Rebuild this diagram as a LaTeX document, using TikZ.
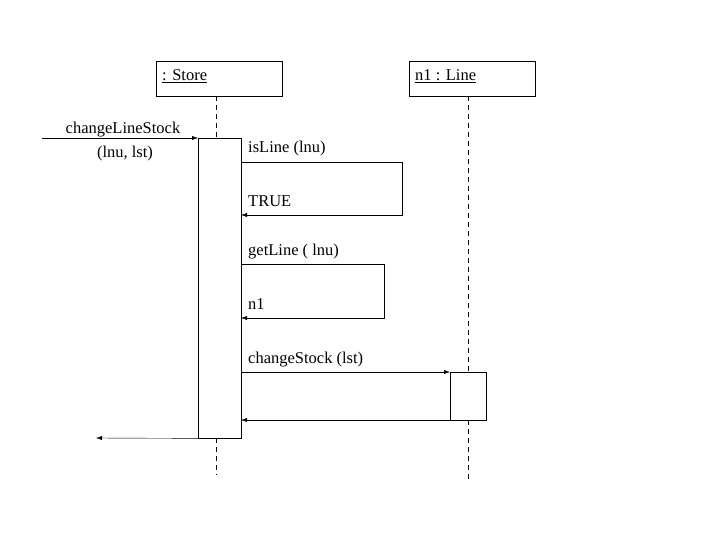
\documentclass[tikz,border=0pt]{standalone}
\usepackage{fontspec}
\setmainfont{Liberation Serif}
\usetikzlibrary{arrows.meta}
\begin{document}
\begin{tikzpicture}[x=1pt,y=-1pt,
  obj/.style={draw,minimum width=126pt,minimum height=35pt,anchor=north west,inner sep=0pt},
  act/.style={draw,fill=white,anchor=north west,inner sep=0pt},
  life/.style={dashed,dash pattern=on 5pt off 4pt},
  msg/.style={-{Latex[length=6pt,width=4pt]}},
  txt/.style={font=\fontsize{16.5}{19}\selectfont,inner sep=0pt},
  lbl/.style={txt,anchor=base west}]
\useasboundingbox (0,0) rectangle (720,540);
\node[obj] (store) at (156,61) {};
\node[lbl] at (162,81) {\underline{: Store}};
\node[obj] (line) at (409,61) {};
\node[lbl] at (415,81) {\underline{n1 : Line}};
\coordinate (sl1) at (216,96); \coordinate (sl2) at (216,475);
\coordinate (ll1) at (468,96); \coordinate (ll2) at (468,480);
\draw[life] (sl1) -- (sl2);
\draw[life] (ll1) -- (ll2);
\node[act,minimum width=43pt,minimum height=300pt] (a1) at (198,138) {};
\node[act,minimum width=36pt,minimum height=48pt] (a2) at (450,372) {};
\coordinate (in) at (42,138);
\draw[msg] (in) -- (a1.north west);
\node[txt,anchor=base] at (123,134) {changeLineStock};
\node[txt,anchor=base] at (125,158) {(lnu, lst)};
\coordinate (s1a) at (241,162); \coordinate (s1b) at (402,162);
\coordinate (s1c) at (402,215); \coordinate (s1d) at (241,215);
\draw[msg] (s1a) -- (s1b) -- (s1c) -- (s1d);
\node[lbl] at (248,153) {isLine (lnu)};
\node[lbl] at (248,207) {TRUE};
\coordinate (s2a) at (241,264); \coordinate (s2b) at (384,264);
\coordinate (s2c) at (384,318); \coordinate (s2d) at (241,318);
\draw[msg] (s2a) -- (s2b) -- (s2c) -- (s2d);
\node[lbl] at (248,255) {getLine ( lnu)};
\node[lbl] at (248,309) {n1};
\draw[msg] (241,372) -- (a2.north west);
\node[lbl] at (248,363) {changeStock (lst)};
\coordinate (r1) at (486,420); \coordinate (r1e) at (241,420);
\draw[msg] (r1) -- (r1e);
\coordinate (out) at (96,438);
\draw[msg] (a1.south west) -- (out);
\end{tikzpicture}
\end{document}
